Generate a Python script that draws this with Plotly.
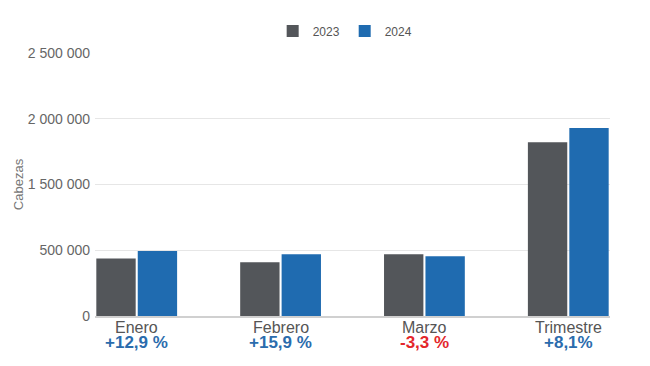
import plotly.graph_objects as go

categories = ["Enero", "Febrero", "Marzo", "Trimestre"]
values_2023 = [437000, 408000, 469000, 1322000]
values_2024 = [495000, 469000, 454000, 1430000]
pct_labels = ["+12,9 %", "+15,9 %", "-3,3 %", "+8,1%"]
pct_colors = ["#2b6cad", "#2b6cad", "#e3262b", "#2b6cad"]
tick_vals = [0, 500000, 1000000, 1500000, 2000000]
tick_text = ["0", "500 000", "1 500 000", "2 000 000", "2 500 000"]

FONT = "Liberation Sans, Arial, sans-serif"

fig = go.Figure()
fig.add_trace(go.Bar(x=categories, y=values_2023, name="2023",
                     marker=dict(color="#53565a", line=dict(width=0))))
fig.add_trace(go.Bar(x=categories, y=values_2024, name="2024",
                     marker=dict(color="#1f6bb0", line=dict(width=0))))

# category names (x-axis labels) and year-on-year change under each group
for cat, lab, col in zip(categories, pct_labels, pct_colors):
    fig.add_annotation(x=cat, xref="x", y=-0.045, yref="paper", yanchor="middle",
                       text=cat, showarrow=False,
                       font=dict(family=FONT, size=16, color="#555555"))
    fig.add_annotation(x=cat, xref="x", y=-0.099, yref="paper", yanchor="middle",
                       text="<b>%s</b>" % lab, showarrow=False,
                       font=dict(family=FONT, size=17, color=col))

fig.update_layout(
    width=650, height=366,
    margin=dict(l=95, r=40, t=53, b=50, autoexpand=False),
    paper_bgcolor="white", plot_bgcolor="white",
    barmode="group", bargap=0.424, bargroupgap=0.05,
    font=dict(family=FONT, color="#666666"),
    showlegend=True,
    legend=dict(orientation="h", x=0.345, xanchor="left", y=1.084, yanchor="middle",
                font=dict(family=FONT, size=12, color="#555555"),
                itemwidth=30, traceorder="normal"),
    xaxis=dict(range=[-0.29, 3.29], showgrid=False, showline=True, automargin=False,
               linecolor="#d0d0d0", linewidth=2, ticks="", showticklabels=False),
    yaxis=dict(range=[0, 2000000], tickvals=tick_vals, ticktext=tick_text, automargin=False,
               showgrid=True, gridcolor="#e6e6e6", gridwidth=1, zeroline=False,
               showline=False, ticks="", ticklabelstandoff=4,
               tickfont=dict(family=FONT, size=14, color="#666666"),
               title=dict(text="Cabezas", standoff=1,
                          font=dict(family=FONT, size=13, color="#777777"))),
)

fig.write_html("out.html", config={"displayModeBar": False},
               post_script="document.body.style.margin='0';")
